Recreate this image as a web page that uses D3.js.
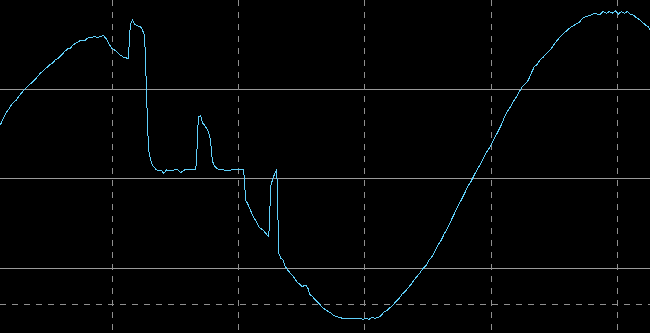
<!DOCTYPE html>
<html>
<head>
<meta charset="utf-8">
<script src="https://cdn.jsdelivr.net/npm/d3@7"></script>
<style>
html,body{margin:0;padding:0;background:#000;overflow:hidden;}
svg{display:block;}
</style>
</head>
<body>
<script>
// sample index (one row per segment, same layout as levels)
const samples = [
  14,17,20,22,24,27,30,33,36,39,42,45,48,51,54,57,60,63,66,69,72,75,78,81,84,87,90,93,96,99,102,105,108,111,114,117,120,122,125,128,131,134,137,140,142,
  143,144,146,148,151,154,156,158,159,160,161,162,164,166,169,172,175,177,180,184,188,191,194,198,202,206,209,
  210,211,212,214,216,218,220,222,224,225,226,228,230,233,237,241,245,249,253,257,
  258,259,261,264,267,270,273,276,279,282,283,284,286,288,290,291,292,294,296,
  298,301,304,307,310,313,316,317,319,321,323,326,329,332,335,338,341,344,347,350,353,356,360,364,368,372,376,379,382,385,388,391,
  394,397,400,403,406,409,412,415,418,421,424,427,430,433,436,439,442,445,448,451,454,457,460,463,466,469,472,475,478,481,484,487,490,493,496,499,502,505,508,511,514,517,520,523,526,529,532,535,538,541,544,547,550,553,556,559,562,565,568,571,574,577,580,583,586,589,592,595,598,601,604,607,610,613,616,619,622,625,628,631,634,637,640,643,646,649,652,655,658,661,664
];
// signal level
const levels = [
  2.60,2.68,2.74,2.77,2.81,2.85,2.88,2.93,2.97,3.01,3.04,3.07,3.10,3.14,3.18,3.21,3.24,3.27,3.29,3.33,3.35,3.38,3.42,3.45,3.46,3.50,3.52,3.54,3.54,3.55,3.58,3.58,3.59,3.58,3.59,3.60,3.56,3.52,3.46,3.44,3.41,3.38,3.36,3.35,3.34,
  3.61,3.73,3.77,3.73,3.71,3.70,3.66,3.60,3.33,2.94,2.60,2.32,2.21,2.15,2.11,2.09,2.09,2.06,2.10,2.09,2.10,2.10,2.07,2.10,2.10,2.10,2.10,
  2.21,2.54,2.69,2.71,2.62,2.60,2.56,2.52,2.42,2.27,2.19,2.14,2.12,2.10,2.10,2.09,2.10,2.10,2.10,2.10,
  1.92,1.76,1.72,1.64,1.57,1.51,1.45,1.43,1.39,1.35,1.63,1.92,2.00,2.06,2.10,1.65,1.17,1.11,1.10,
  1.03,0.98,0.94,0.90,0.85,0.82,0.79,0.81,0.81,0.78,0.71,0.68,0.64,0.61,0.57,0.54,0.52,0.50,0.47,0.46,0.45,0.44,0.44,0.44,0.44,0.44,0.43,0.44,0.43,0.45,0.44,0.45,
  0.47,0.51,0.53,0.56,0.59,0.63,0.66,0.71,0.74,0.78,0.82,0.87,0.91,0.95,1.00,1.03,1.09,1.13,1.19,1.26,1.31,1.38,1.44,1.51,1.58,1.65,1.72,1.78,1.85,1.92,1.97,2.04,2.10,2.16,2.22,2.29,2.34,2.40,2.47,2.53,2.60,2.68,2.75,2.80,2.86,2.91,2.97,3.03,3.06,3.10,3.18,3.25,3.28,3.33,3.36,3.40,3.43,3.47,3.52,3.56,3.60,3.63,3.66,3.69,3.71,3.73,3.75,3.79,3.81,3.82,3.83,3.85,3.84,3.84,3.87,3.85,3.87,3.85,3.88,3.84,3.87,3.85,3.87,3.84,3.83,3.80,3.78,3.75,3.72,3.70,3.64
];
// grid tick values
const xTicks = [126,252,378,504,630];
const ySolidTicks = [1,2,3];
const yDashedTicks = [0.6];

const W = 650, H = 333;
const svg = d3.select("body").append("svg").attr("width", W).attr("height", H);
svg.append("rect").attr("width", W).attr("height", H).attr("fill", "#000");

const x = d3.scaleLinear().domain([13.68, 662.6]).range([0, W]);
const y = d3.scaleLinear().domain([0.277, 3.998]).range([H, 0]);

const snap = v => Math.floor(v) + 0.5;

// horizontal solid gridlines
svg.append("g").selectAll("line").data(ySolidTicks).join("line")
  .attr("x1", 0).attr("x2", W)
  .attr("y1", d => snap(y(d))).attr("y2", d => snap(y(d)))
  .attr("stroke", "#9a9a9a").attr("stroke-width", 1)
  .attr("shape-rendering", "crispEdges");

// horizontal dashed gridline
svg.append("g").selectAll("line").data(yDashedTicks).join("line")
  .attr("x1", 0).attr("x2", W)
  .attr("y1", d => snap(y(d))).attr("y2", d => snap(y(d)))
  .attr("stroke", "#8f8f8f").attr("stroke-width", 1)
  .attr("stroke-dasharray", "6,6")
  .attr("shape-rendering", "crispEdges");

// vertical dashed gridlines
svg.append("g").selectAll("line").data(xTicks).join("line")
  .attr("y1", 0).attr("y2", H)
  .attr("x1", d => snap(x(d))).attr("x2", d => snap(x(d)))
  .attr("stroke", "#8f8f8f").attr("stroke-width", 1)
  .attr("stroke-dasharray", "6,6")
  .attr("shape-rendering", "crispEdges");

const data = samples.map((s, i) => [s, levels[i]]);
const line = d3.line().x(d => x(d[0])).y(d => y(d[1]));

svg.append("path")
  .datum(data)
  .attr("d", line)
  .attr("fill", "none")
  .attr("stroke", "#5fd0fa")
  .attr("stroke-width", 1)
  .attr("shape-rendering", "crispEdges");
</script>
</body>
</html>
